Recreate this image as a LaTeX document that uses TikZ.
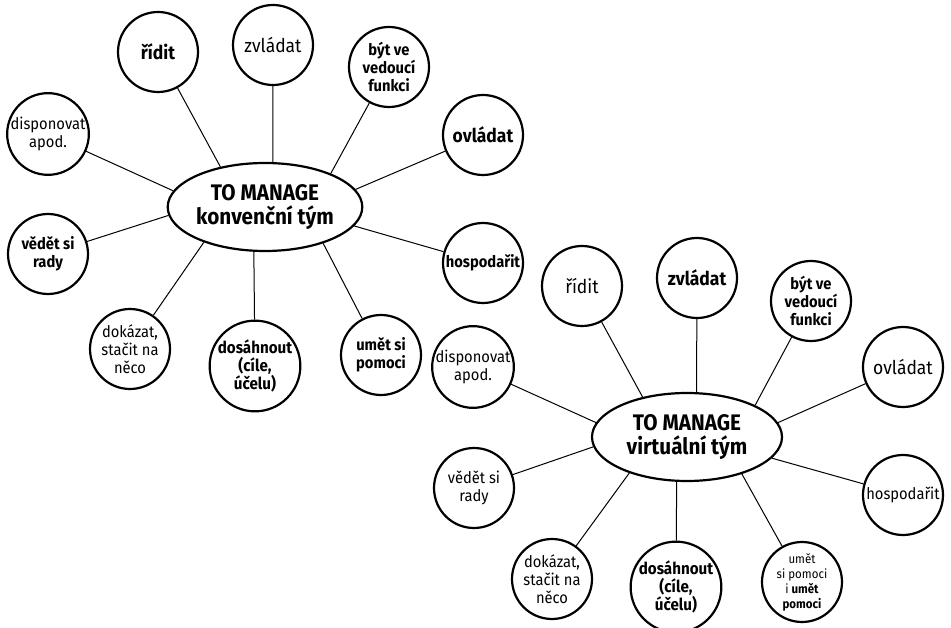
\documentclass[tikz,border=0pt]{standalone}
\usepackage{fontspec}
\setmainfont{Fira Sans}[FakeStretch=0.92]
\usepackage{tikz}
\usetikzlibrary{shapes.geometric}
\newcommand*{\leafsize}{\fontsize{16}{18}\selectfont}
\newcommand*{\wordsize}{\fontsize{19}{21}\selectfont}
\tikzset{
  hub/.style={ellipse, draw, line width=2.2pt, minimum width=190pt, minimum height=88pt,
    inner sep=0pt, align=center, font=\fontsize{22.5}{24}\selectfont\bfseries},
  leaf/.style={circle, draw, line width=2.2pt, minimum size=80pt, inner sep=0pt,
    align=center, font=\leafsize},
  spoke/.style={line width=1pt}
}

\begin{document}
\begin{tikzpicture}[x=1pt,y=-1pt]
    \useasboundingbox (0,0) rectangle (951,628);

    % konvencni tym
    \node [hub] (kon) at (265,207) {TO MANAGE\\konvenční tým};
    \node [leaf,font=\wordsize\bfseries] (kon-ridit) at (158,52) {řídit};
    \node [leaf,font=\wordsize] (kon-zvladat) at (273,45) {zvládat};
    \node [leaf,font=\leafsize\bfseries] (kon-byt) at (389,67) {být ve\\vedoucí\\funkci};
    \node [leaf,font=\wordsize\bfseries] (kon-ovladat) at (483,135) {ovládat};
    \node [leaf,font=\leafsize\bfseries] (kon-hosp) at (483,263) {hospodařit};
    \node [leaf,font=\leafsize\bfseries] (kon-umet) at (381,355) {umět si\\pomoci};
    \node [leaf,font=\fontsize{16.5}{18}\selectfont\bfseries] (kon-dosah) at (255,366) {dosáhnout\\(cíle,\\účelu)};
    \node [leaf] (kon-dokazat) at (130,349) {dokázat,\\stačit na\\něco};
    \node [leaf,font=\leafsize\bfseries] (kon-vedet) at (48,254) {vědět si\\rady};
    \node [leaf] (kon-dispon) at (48,134) {disponovat\\apod.};

    \foreach \leaf/\ang in {ridit/138, zvladat/80, byt/27, ovladat/11, hosp/348,
                            umet/328, dosah/256, dokazat/210, vedet/185, dispon/170} {
      \draw [spoke] (kon.\ang) -- (kon-\leaf);
    }

    % virtualni tym
    \node [hub] (vir) at (687,437) {TO MANAGE\\virtuální tým};
    \node [leaf,font=\wordsize] (vir-ridit) at (582,286) {řídit};
    \node [leaf,font=\wordsize\bfseries] (vir-zvladat) at (697,278) {zvládat};
    \node [leaf,font=\leafsize\bfseries] (vir-byt) at (811,301) {být ve\\vedoucí\\funkci};
    \node [leaf,font=\wordsize] (vir-ovladat) at (903,367) {ovládat};
    \node [leaf] (vir-hosp) at (903,495) {hospodařit};
    \node [leaf,font=\fontsize{12.5}{15}\selectfont] (vir-umet) at (802,582)
      {umět\\si pomoci\\i \textbf{umět}\\\textbf{pomoci}};
    \node [leaf,font=\fontsize{16.5}{18}\selectfont\bfseries] (vir-dosah) at (676,587) {dosáhnout\\(cíle,\\účelu)};
    \node [leaf] (vir-dokazat) at (552,579) {dokázat,\\stačit na\\něco};
    \node [leaf] (vir-vedet) at (474,488) {vědět si\\rady};
    \node [leaf] (vir-dispon) at (473,367) {disponovat\\apod.};

    \foreach \leaf/\ang in {ridit/138, zvladat/78, byt/25, ovladat/9, hosp/346,
                            umet/326, dosah/257, dokazat/212, vedet/186, dispon/171} {
      \draw [spoke] (vir.\ang) -- (vir-\leaf);
    }
  \end{tikzpicture}
\end{document}
